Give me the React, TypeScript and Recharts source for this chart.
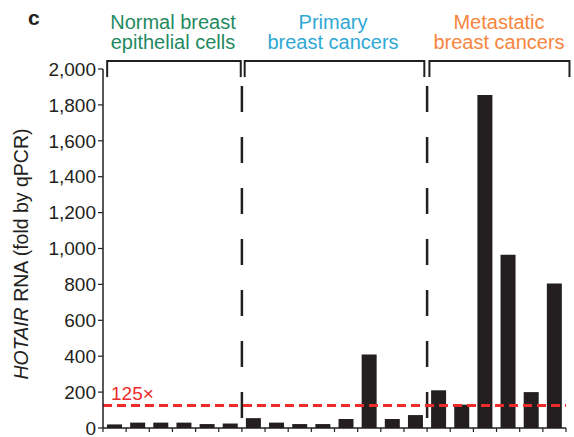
import React from "react";
import { BarChart, Bar, XAxis, YAxis, ReferenceLine } from "recharts";

// HOTAIR RNA fold change (qPCR)
const normalValues = [20, 30, 30, 30, 22, 25];
const primaryValues = [55, 30, 22, 22, 50, 410, 50, 72];
const metastaticValues = [210, 130, 1855, 965, 200, 805];

const groupLabels = [
  { lines: ["Normal breast", "epithelial cells"], color: "#1f8a5f" },
  { lines: ["Primary", "breast cancers"], color: "#2fa8d5" },
  { lines: ["Metastatic", "breast cancers"], color: "#f7853d" },
];

const yTicks = [0, 200, 400, 600, 800, 1000, 1200, 1400, 1600, 1800, 2000];
const threshold = 125;

const W = 574;
const H = 437;
const INK = "#231f20";
const RED = "#ee2b2b";
const FONT = "'Liberation Sans', Arial, Helvetica, sans-serif";

const allValues = [...normalValues, ...primaryValues, ...metastaticValues];
const data = allValues.map((v, i) => ({ x: i + 0.5, value: v }));
const xTicks = Array.from({ length: allValues.length + 1 }, (_, i) => i);

const b1 = normalValues.length;
const b2 = b1 + primaryValues.length;
const n = allValues.length;

// brackets over each group: [start, end] in category units
const brackets = [
  [0.18, b1 - 0.05],
  [b1 + 0.12, b2 - 0.12],
  [b2 + 0.1, n + 0.15],
];

const fmt = (v: number) => v.toLocaleString("en-US");

const ThresholdLabel = (props: any) => {
  const vb = props.viewBox || {};
  return (
    <text x={(vb.x || 0) + 8} y={(vb.y || 0) - 6} fill={RED} fontSize={19} fontFamily={FONT}>
      125×
    </text>
  );
};

export default function App() {
  return (
    <div style={{ position: "fixed", left: 0, top: 0, width: W, height: H, background: "#fff" }}>
      <BarChart
        width={W}
        height={H}
        data={data}
        margin={{ top: 69, right: 8, bottom: 1, left: 3 }}
        style={{ fontFamily: FONT }}
      >
        <XAxis
          type="number"
          dataKey="x"
          scale="linear"
          domain={[0, n]}
          ticks={xTicks}
          tickFormatter={() => ""}
          tickSize={4}
          height={8}
          axisLine={{ stroke: INK, strokeWidth: 1.5 }}
          tickLine={{ stroke: INK, strokeWidth: 1.2 }}
        />
        <YAxis
          domain={[0, 2000]}
          ticks={yTicks}
          tickFormatter={fmt}
          width={100}
          tickSize={5}
          tickMargin={2}
          interval={0}
          axisLine={{ stroke: INK, strokeWidth: 1.5 }}
          tickLine={{ stroke: INK, strokeWidth: 1.2 }}
          tick={{ fill: INK, fontSize: 19, fontFamily: FONT }}
        />
        <Bar dataKey="value" fill={INK} barSize={15} isAnimationActive={false} />

        {[b1, b2].map((b) => (
          <ReferenceLine
            key={`div-${b}`}
            segment={[{ x: b, y: 1905 }, { x: b, y: 40 }]}
            stroke={INK}
            strokeWidth={2.5}
            strokeDasharray="26 25"
            ifOverflow="visible"
          />
        ))}

        {brackets.map(([s, e], i) => (
          <ReferenceLine
            key={`br-top-${i}`}
            segment={[{ x: s, y: 2045 }, { x: e, y: 2045 }]}
            stroke={INK}
            strokeWidth={2}
            ifOverflow="visible"
          />
        ))}
        {brackets.flatMap(([s, e], i) =>
          [s, e].map((x, j) => (
            <ReferenceLine
              key={`br-end-${i}-${j}`}
              segment={[{ x, y: 2050 }, { x, y: 1955 }]}
              stroke={INK}
              strokeWidth={2}
              ifOverflow="visible"
            />
          ))
        )}

        <ReferenceLine
          y={threshold}
          stroke={RED}
          strokeWidth={3}
          strokeDasharray="9 5"
          label={<ThresholdLabel />}
        />
      </BarChart>

      <svg
        width={W}
        height={H}
        style={{ position: "absolute", left: 0, top: 0, pointerEvents: "none", fontFamily: FONT }}
      >
        <text x={28} y={25} fontSize={21} fontWeight="bold" fill={INK}>
          c
        </text>
        {groupLabels.map((g, i) => {
          const cx = [173, 333, 499][i];
          return (
            <text key={i} textAnchor="middle" fontSize={20} fill={g.color}>
              <tspan x={cx} y={29}>{g.lines[0]}</tspan>
              <tspan x={cx} y={49}>{g.lines[1]}</tspan>
            </text>
          );
        })}
        <text
          transform="translate(28, 254) rotate(-90)"
          textAnchor="middle"
          fontSize={19.5}
          fill={INK}
        >
          <tspan fontStyle="italic">HOTAIR</tspan>
          <tspan> RNA (fold by qPCR)</tspan>
        </text>
      </svg>
    </div>
  );
}
